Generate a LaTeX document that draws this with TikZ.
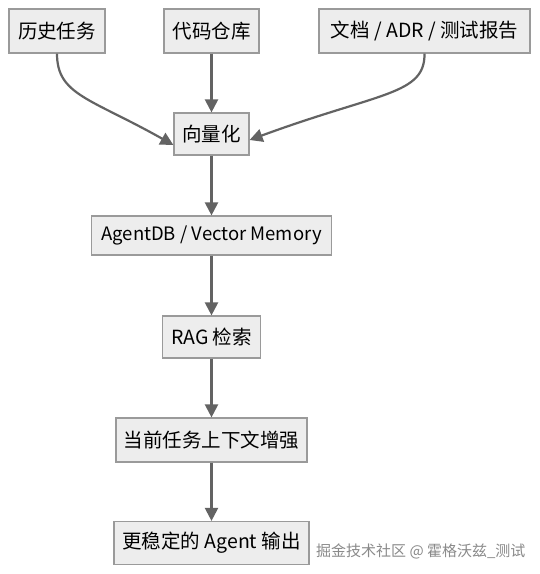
\documentclass[tikz,border=0pt]{standalone}
\usepackage{fontspec}
\setmainfont{Noto Sans CJK SC}
\usetikzlibrary{arrows.meta}
\definecolor{boxfill}{HTML}{EDEDED}
\definecolor{boxline}{HTML}{9A9A9A}
\definecolor{edgecol}{HTML}{636363}
\definecolor{wmcol}{HTML}{8A8A8A}
\begin{document}
\begin{tikzpicture}[x=1pt,y=-1pt,
  box/.style={draw=boxline,fill=boxfill,line width=1.2pt,inner sep=0pt,
    font=\fontsize{19.5}{23}\selectfont,text=black},
  edge/.style={draw=edgecol,line width=2.2pt,-{Triangle[length=13pt,width=13pt]}},
  wm/.style={text=wmcol,font=\fontsize{15}{18}\selectfont,inner sep=0pt}]
\useasboundingbox (0,0) rectangle (540,574);
\fill[white] (0,0) rectangle (540,574);
\node[box,minimum width=96pt,minimum height=44pt] (hist) at (57,31) {历史任务};
\node[box,minimum width=95pt,minimum height=44pt] (code) at (211.5,31) {代码仓库};
\node[box,minimum width=211pt,minimum height=44pt] (docs) at (424.5,31) {文档 / ADR / 测试报告};
\node[box,minimum width=75pt,minimum height=42pt] (vec) at (211.5,134) {向量化};
\node[box,minimum width=240pt,minimum height=39pt,font=\fontsize{18.5}{22}\selectfont] (adb) at (211.5,235.5) {AgentDB / Vector Memory};
\node[box,minimum width=98pt,minimum height=42pt] (rag) at (211.5,337) {RAG 检索};
\node[box,minimum width=191pt,minimum height=44pt] (ctx) at (211.5,440) {当前任务上下文增强};
\node[box,minimum width=195pt,minimum height=43pt] (out) at (211.5,543) {更稳定的 Agent 输出};
\coordinate (vecL) at ([yshift=-11pt]vec.west);
\coordinate (vecR) at ([yshift=-6pt]vec.east);
\draw[edge] (hist.south) .. controls (57,95) and (90,98) .. (vecL);
\draw[edge] (code.south) -- (vec.north);
\draw[edge] (docs.south) .. controls (425,95) and (380,92) .. (vecR);
\draw[edge] (vec.south) -- (adb.north);
\draw[edge] (adb.south) -- (rag.north);
\draw[edge] (rag.south) -- (ctx.north);
\draw[edge] (ctx.south) -- (out.north);
\node[wm,anchor=west] (wmk) at (316,551) {掘金技术社区 @ 霍格沃兹\_测试};
\end{tikzpicture}
\end{document}
